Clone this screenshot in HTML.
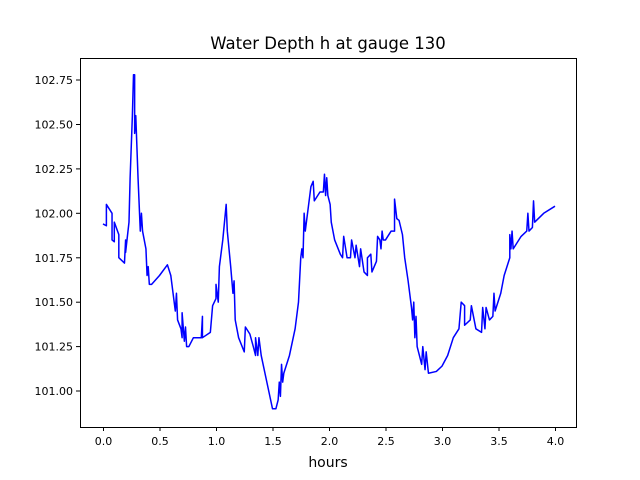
<!DOCTYPE html>
<html><head><meta charset="utf-8"><style>body{margin:0;background:#fff}svg{display:block}text{font-family:"DejaVu Sans","Liberation Sans",sans-serif;font-size:11px;fill:#000}</style></head><body>
<svg width="640" height="480" xmlns="http://www.w3.org/2000/svg">
<rect width="640" height="480" fill="#fff"/>
<text x="328" y="49" text-anchor="middle" style="font-size:16.5px">Water Depth h at gauge 130</text>
<g transform="matrix(113,0,0,-177.7,103,18338.7)">
<polyline vector-effect="non-scaling-stroke" fill="none" stroke="#0000ff" stroke-width="1.5" stroke-linejoin="round" points="0,101.94 0.03,101.93 0.03,102.05 0.08,102.0 0.08,101.85 0.1,101.84 0.1,101.95 0.14,101.88 0.14,101.75 0.19,101.72 0.2,101.85 0.2,101.78 0.23,101.95 0.24,102.2 0.26,102.55 0.27,102.78 0.28,102.78 0.28,102.45 0.29,102.55 0.31,102.2 0.33,101.9 0.34,102.0 0.35,101.9 0.38,101.8 0.39,101.65 0.4,101.7 0.41,101.6 0.43,101.6 0.5,101.65 0.57,101.71 0.6,101.65 0.64,101.45 0.65,101.55 0.66,101.4 0.69,101.35 0.7,101.3 0.7,101.44 0.72,101.28 0.73,101.36 0.74,101.25 0.76,101.25 0.8,101.3 0.87,101.3 0.88,101.42 0.88,101.3 0.95,101.33 0.97,101.48 1.0,101.52 1.0,101.6 1.02,101.5 1.03,101.7 1.06,101.85 1.09,102.05 1.1,101.9 1.13,101.7 1.15,101.55 1.16,101.62 1.17,101.4 1.2,101.3 1.25,101.22 1.26,101.36 1.3,101.32 1.33,101.25 1.35,101.2 1.35,101.3 1.37,101.2 1.38,101.3 1.4,101.2 1.45,101.05 1.5,100.9 1.53,100.9 1.55,100.95 1.56,101.05 1.57,100.97 1.58,101.15 1.59,101.05 1.6,101.1 1.65,101.2 1.7,101.35 1.73,101.5 1.75,101.75 1.76,101.8 1.77,101.75 1.78,102.0 1.79,101.9 1.82,102.05 1.84,102.15 1.86,102.18 1.87,102.07 1.92,102.12 1.95,102.12 1.96,102.22 1.97,102.1 1.98,102.2 1.99,102.1 2.01,102.05 2.02,101.95 2.05,101.85 2.1,101.77 2.12,101.75 2.13,101.87 2.16,101.75 2.19,101.75 2.2,101.85 2.23,101.75 2.24,101.82 2.27,101.7 2.28,101.8 2.31,101.67 2.34,101.65 2.34,101.75 2.37,101.77 2.38,101.67 2.42,101.73 2.43,101.87 2.45,101.85 2.46,101.8 2.47,101.9 2.48,101.85 2.5,101.85 2.55,101.9 2.58,101.9 2.58,102.08 2.6,101.97 2.62,101.96 2.65,101.88 2.67,101.75 2.7,101.62 2.73,101.47 2.74,101.4 2.75,101.5 2.76,101.3 2.77,101.42 2.78,101.25 2.82,101.15 2.83,101.25 2.85,101.12 2.86,101.22 2.88,101.1 2.95,101.11 3.0,101.14 3.05,101.2 3.1,101.3 3.15,101.35 3.17,101.5 3.2,101.48 3.2,101.37 3.25,101.4 3.26,101.48 3.3,101.35 3.35,101.33 3.36,101.47 3.38,101.35 3.39,101.47 3.42,101.4 3.45,101.42 3.46,101.55 3.47,101.45 3.52,101.55 3.55,101.65 3.6,101.75 3.6,101.88 3.61,101.8 3.62,101.9 3.63,101.8 3.7,101.87 3.75,101.9 3.76,102.0 3.77,101.9 3.8,101.92 3.81,102.07 3.82,101.95 3.9,102.0 4.0,102.04"/>
</g>
<rect x="80.5" y="58.5" width="496" height="369" fill="none" stroke="#000" stroke-width="1"/>
<g stroke="#000" stroke-width="1">
<line x1="103.5" y1="427" x2="103.5" y2="431"/><line x1="160" y1="427" x2="160" y2="431"/><line x1="216.5" y1="427" x2="216.5" y2="431"/><line x1="273" y1="427" x2="273" y2="431"/><line x1="329.5" y1="427" x2="329.5" y2="431"/><line x1="386" y1="427" x2="386" y2="431"/><line x1="442.5" y1="427" x2="442.5" y2="431"/><line x1="499" y1="427" x2="499" y2="431"/><line x1="555.5" y1="427" x2="555.5" y2="431"/>
<line x1="76" y1="391" x2="80" y2="391"/><line x1="76" y1="346.6" x2="80" y2="346.6"/><line x1="76" y1="302.2" x2="80" y2="302.2"/><line x1="76" y1="257.8" x2="80" y2="257.8"/><line x1="76" y1="213.3" x2="80" y2="213.3"/><line x1="76" y1="168.9" x2="80" y2="168.9"/><line x1="76" y1="124.5" x2="80" y2="124.5"/><line x1="76" y1="80" x2="80" y2="80"/>
</g>
<g text-anchor="middle">
<text x="103.5" y="445">0.0</text><text x="160" y="445">0.5</text><text x="216.5" y="445">1.0</text><text x="273" y="445">1.5</text><text x="329.5" y="445">2.0</text><text x="386" y="445">2.5</text><text x="442.5" y="445">3.0</text><text x="499" y="445">3.5</text><text x="555.5" y="445">4.0</text>
<text x="328" y="467" style="font-size:14px">hours</text>
</g>
<g text-anchor="end" style="font-size:10.5px">
<text x="73" y="395">101.00</text><text x="73" y="350.6">101.25</text><text x="73" y="306.2">101.50</text><text x="73" y="261.8">101.75</text><text x="73" y="217.3">102.00</text><text x="73" y="172.9">102.25</text><text x="73" y="128.5">102.50</text><text x="73" y="84">102.75</text>
</g>
</svg>
</body></html>
